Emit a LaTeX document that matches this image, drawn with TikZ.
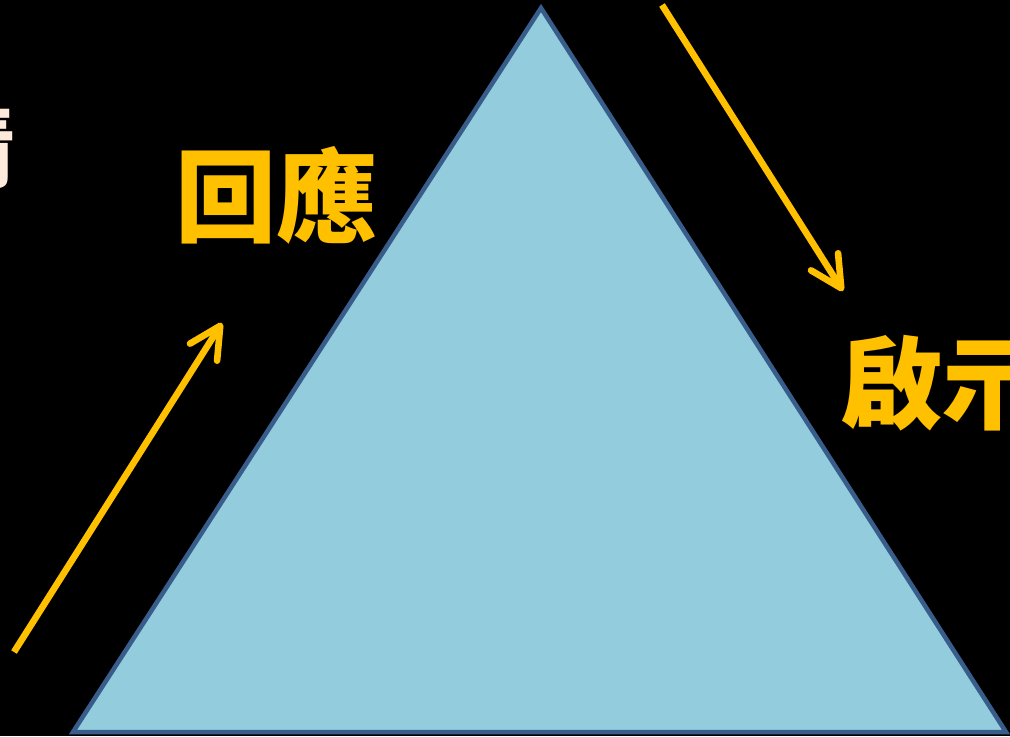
\documentclass[tikz,border=0pt]{standalone}
\usepackage{fontspec}
\newfontfamily\cjk{Noto Sans CJK TC}
\definecolor{slideblack}{RGB}{0,0,0}
\definecolor{pyrfill}{RGB}{147,204,221}
\definecolor{pyrline}{RGB}{56,93,138}
\definecolor{gold}{RGB}{255,192,0}
\definecolor{peach}{RGB}{253,234,218}
\usetikzlibrary{arrows.meta,positioning}

\begin{document}
\begin{tikzpicture}[
  x=0.025cm, y=-0.025cm,
  pyramid/.style={
    draw=pyrline, fill=pyrfill, line width=3.2pt, line join=miter
  },
  label/.style={
    text=gold, inner sep=0pt, anchor=base west,
    font=\cjk\bfseries\fontsize{72pt}{72pt}\selectfont
  },
  title/.style={
    text=peach, inner sep=0pt, anchor=base east,
    font=\cjk\bfseries\fontsize{64pt}{64pt}\selectfont
  },
  arrow/.style={-{Straight Barb[length=7.8mm, width=8mm, round]},
    line width=4.7pt, draw=gold}
]
\useasboundingbox (0,0) rectangle (1010,736);
\fill[slideblack] (0,0) rectangle (1010,736);
\clip (0,0) rectangle (1010,736);

% pyramid
\coordinate (apex) at (541,8);
\coordinate (baseL) at (73,732);
\coordinate (baseR) at (1006,732);
\draw[pyramid] (apex) -- (baseR) -- (baseL) -- cycle;

% texts
\node[title] (side) at (16,180) {情};
\node[label] (respond) at (175,234) {回應};
\node[label] (reveal) at (841,421) {啟示};

% arrows
\coordinate (upS) at (14,652);
\coordinate (upE) at (222,323);
\coordinate (downS) at (662,5);
\coordinate (downE) at (843,291);
\draw[arrow] (upS) -- (upE);
\draw[arrow] (downS) -- (downE);
\end{tikzpicture}
\end{document}
